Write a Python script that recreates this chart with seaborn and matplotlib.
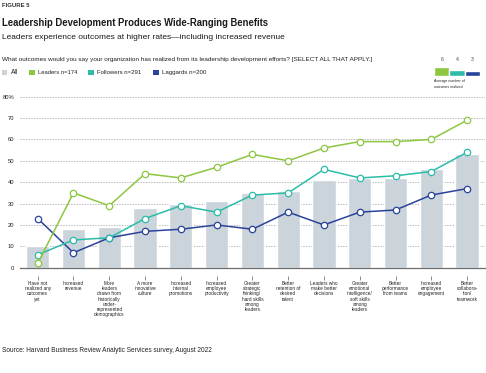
import numpy as np
import pandas as pd
import matplotlib
matplotlib.use("Agg")
import matplotlib.pyplot as plt
import seaborn as sns
from matplotlib import font_manager as fm
from matplotlib.patches import Rectangle
from matplotlib.transforms import blended_transform_factory

# ---------------- data ----------------
categories = [
    "Have not\nrealized any\noutcomes\nyet",
    "Increased\nrevenue",
    "More\nleaders\ndrawn from\nhistorically\nunder-\nrepresented\ndemographics",
    "A more\ninnovative\nculture",
    "Increased\ninternal\npromotions",
    "Increased\nemployee\nproductivity",
    "Greater\nstrategic\nthinking/\nhard skills\namong\nleaders",
    "Better\nretention of\ndesired\ntalent",
    "Leaders who\nmake better\ndecisions",
    "Greater\nemotional\nintelligence/\nsoft skills\namong\nleaders",
    "Better\nperformance\nfrom teams",
    "Increased\nemployee\nengagement",
    "Better\ncollabora-\ntion/\nteamwork",
]
all_vals = [10, 18, 19, 28, 30, 31, 35, 36, 41, 42, 42, 46, 53]
leaders = [2, 35, 29, 44, 42, 47, 53, 50, 56, 59, 59, 60, 69]
followers = [6, 13, 14, 23, 29, 26, 34, 35, 46, 42, 43, 45, 54]
laggards = [23, 7, 14, 17, 18, 20, 18, 26, 20, 26, 27, 34, 37]

series_names = ["All", "Leaders n=174", "Followers n=291", "Laggards n=200"]
avg_groups = ["Leaders", "Followers", "Laggards"]
avg_outcomes = [6, 4, 3]

y_ticks = [0, 10, 20, 30, 40, 50, 60, 70, 80]
y_tick_labels = ["0", "10", "20", "30", "40", "50", "60", "70", "80%"]

# ---------------- style ----------------
C_ALL = "#cbd4da"
C_LEAD = "#8dc641"
C_FOLL = "#2bbcaa"
C_LAG = "#2a439b"
TXT = "#222222"

def has_font(name):
    try:
        fm.findfont(fm.FontProperties(family=name), fallback_to_default=False)
        return True
    except Exception:
        return False

MAIN = "Liberation Sans" if has_font("Liberation Sans") else "DejaVu Sans"
NARROW = "Liberation Sans Narrow" if has_font("Liberation Sans Narrow") else MAIN

sns.set_theme(style="white")
plt.rcParams["font.family"] = [MAIN, "DejaVu Sans"]

W, H = 486, 373
fig = plt.figure(figsize=(W / 100, H / 100), dpi=100)
renderer = fig.canvas.get_renderer()

def px2fig(x, y):
    return x / W, 1 - y / H

# main axes
ax_left, ax_right = 19.8, 485.0
ax_top, ax_bot = 96.7, 267.7
ax = fig.add_axes([ax_left / W, 1 - ax_bot / H, (ax_right - ax_left) / W, (ax_bot - ax_top) / H])

df = pd.DataFrame({"outcome": categories, "All": all_vals, "Leaders": leaders,
                   "Followers": followers, "Laggards": laggards})
positions = np.arange(len(categories))

sns.barplot(data=df, x="outcome", y="All", color=C_ALL, saturation=1, width=0.65,
            ax=ax, zorder=2)

for vals, col in [(laggards, C_LAG), (followers, C_FOLL), (leaders, C_LEAD)]:
    sns.lineplot(x=positions, y=vals, color=col, linewidth=1.1, marker="o",
                 markersize=4.6, markerfacecolor="white", markeredgecolor=col,
                 markeredgewidth=0.9, ax=ax, zorder=4, clip_on=False)

ax.set_xlim(-0.5, len(categories) - 0.5)
ax.set_ylim(0, 80)
ax.set_yticks(y_ticks)
ax.set_yticklabels(y_tick_labels)
ax.set_xlabel("")
ax.set_ylabel("")
for s in ["top", "right", "left"]:
    ax.spines[s].set_visible(False)
ax.spines["bottom"].set_color("#6e6e6e")
ax.spines["bottom"].set_linewidth(0.9)
ax.spines["bottom"].set_zorder(5)
ax.yaxis.grid(True, color="#a8a8a8", linewidth=0.6, linestyle=(0, (1.6, 1.6)), zorder=1)
ax.xaxis.grid(False)
ax.set_axisbelow(True)
ax.tick_params(axis="y", length=0, pad=4, labelsize=4.2, labelcolor=TXT)
ax.tick_params(axis="x", length=0, pad=9.6, labelsize=3.4, labelcolor=TXT)
for lab in ax.get_xticklabels():
    lab.set_fontfamily([NARROW, "DejaVu Sans"])
    lab.set_linespacing(1.05)
for lab in ax.get_yticklabels():
    lab.set_fontfamily([NARROW, "DejaVu Sans"])

# little tick marks below the axis
axh = ax_bot - ax_top
trans = blended_transform_factory(ax.transData, ax.transAxes)
ax.vlines(positions, -(7.8 / axh), -(11.8 / axh), transform=trans, colors="#777777",
          linewidth=0.6, clip_on=False)

# ---------------- texts ----------------
def fit_text(x, y, s, width, size=5, weight="normal", family=None, color=TXT, ha="left"):
    fx, fy = px2fig(x, y)
    t = fig.text(fx, fy, s, fontsize=size, fontweight=weight, color=color, ha=ha, va="center",
                 family=family if family else [MAIN, "DejaVu Sans"])
    w = t.get_window_extent(renderer=renderer).width
    if w > 0:
        t.set_fontsize(size * width / w)
    return t

fit_text(2, 5.5, "FIGURE 5", 28, weight="bold", color="#333333")
fit_text(2, 22.5, "Leadership Development Produces Wide-Ranging Benefits", 269, weight="bold", color="#1a1a1a")
fit_text(2, 37.5, "Leaders experience outcomes at higher rates\u2014including increased revenue", 285, color="#1a1a1a")
fit_text(2, 60, "What outcomes would you say your organization has realized from its leadership development efforts? [SELECT ALL THAT APPLY.]", 379)
fit_text(2, 351, "Source: Harvard Business Review Analytic Services survey, August 2022", 216)

# legend row
legend_items = [
    (series_names[0], C_ALL, 1.7, 11, 7.5),
    (series_names[1], C_LEAD, 29.3, 38, 40),
    (series_names[2], C_FOLL, 88, 97, 45),
    (series_names[3], C_LAG, 153, 162, 45),
]
for name, col, sx, tx, tw in legend_items:
    fx, fy = px2fig(sx, 75.2)
    fig.patches.append(Rectangle((fx, fy), 5.7 / W, 5.5 / H, transform=fig.transFigure,
                                 facecolor=col, edgecolor="none"))
    fit_text(tx, 72.5, name, tw)

# inset: average number of outcomes realized
i_left, i_right, i_bot, i_top = 434, 480, 76, 66.7
iax = fig.add_axes([i_left / W, 1 - i_bot / H, (i_right - i_left) / W, (i_bot - i_top) / H])
sns.barplot(x=avg_groups, y=avg_outcomes, hue=avg_groups, palette=[C_LEAD, C_FOLL, C_LAG],
            width=1.0, saturation=1, legend=False, ax=iax)
iax.set_xlim(-0.5, 2.5)
iax.set_ylim(0, max(avg_outcomes))
iax.axis("off")
itrans = blended_transform_factory(iax.transData, iax.transAxes)
for i, v in enumerate(avg_outcomes):
    iax.text(i, 1 + (i_top - 59.5) / (i_bot - i_top), str(v), transform=itrans, ha="center",
             va="center", fontsize=3.6, color="#444444", clip_on=False)
fit_text(434, 81.3, "Average number of", 31)
fit_text(434, 87.5, "outcomes realized", 29)

fig.savefig("out.png", dpi=100)
